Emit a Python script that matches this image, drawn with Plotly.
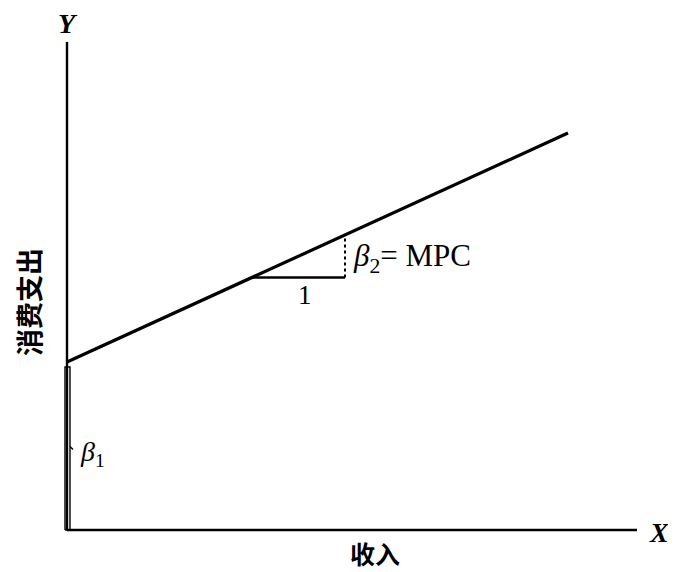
import plotly.graph_objects as go

# Model: consumption = beta1 + beta2 * income (diagram units)
beta1 = 168          # intercept
beta2 = 0.457        # slope (MPC)
income_line = [0, 501]           # x-extent of the consumption line
x_axis_end = 570
y_axis_top = 488
tri_x = [185, 278]               # triangle run (base "1")
beta1_bar_top = 163

serif = "Liberation Serif, Times New Roman, serif"
cjk = "Noto Sans CJK SC, sans-serif"

fig = go.Figure()

def seg(xs, ys, w=2.2, dash=None):
    fig.add_trace(go.Scatter(x=xs, y=ys, mode="lines",
                             line=dict(color="black", width=w, dash=dash),
                             hoverinfo="skip", showlegend=False))

# axes
seg([0, 0], [0, y_axis_top], 2.4)
seg([0, x_axis_end], [0, 0], 2.4)

# consumption line
cx = income_line
cy = [beta1 + beta2 * v for v in cx]
seg(cx, cy, 3.2)

# slope triangle
y0 = beta1 + beta2 * tri_x[0]
y1 = beta1 + beta2 * tri_x[1]
seg([tri_x[0], tri_x[1]], [y0, y0], 2.4)
seg([tri_x[1], tri_x[1]], [y0, y1], 2, "dot")

# beta1 bar
seg([-2, -2, 3, 3, -2], [0, beta1_bar_top, beta1_bar_top, 0, 0], 1.4)
seg([3, 6], [beta1_bar_top / 2 + 2, beta1_bar_top / 2 - 1], 1.4)

ann = [
    dict(x=1, y=507, text="<b><i>Y</i></b>", font=dict(family=serif, size=28)),
    dict(x=592, y=-2, text="<b><i>X</i></b>", font=dict(family=serif, size=28)),
    dict(x=308, y=-23, text="<b>收入</b>", font=dict(family=cjk, size=25)),
    dict(x=-39, y=228, text="<b>消费支出</b>", textangle=-90, font=dict(family=cjk, size=27)),
    dict(x=(tri_x[0] + tri_x[1]) / 2 + 6, y=y0 - 18, text="1", font=dict(family=serif, size=27)),
    dict(x=tri_x[1] + 6, y=(y0 + y1) / 2 - 2, text="<i>β</i><sub>2</sub>= MPC", xanchor="left",
         font=dict(family=serif, size=31)),
    dict(x=11, y=beta1_bar_top / 2 - 5, text="<i>β</i><sub>1</sub>", xanchor="left",
         font=dict(family=serif, size=28)),
]
for a in ann:
    a.setdefault("xanchor", "center")
    a["showarrow"] = False
    a["yanchor"] = "middle"
    a["font"].setdefault("color", "black")
    fig.add_annotation(**a)

# the page body has an 8px margin, so the figure is sized and ranged to fit the window
fig.update_layout(
    width=668, height=564,
    margin=dict(l=0, r=0, t=0, b=0),
    plot_bgcolor="white", paper_bgcolor="white",
    xaxis=dict(range=[-59, 609], visible=False, fixedrange=True),
    yaxis=dict(range=[-42, 522], visible=False, fixedrange=True),
)

fig.write_html("out.html")
